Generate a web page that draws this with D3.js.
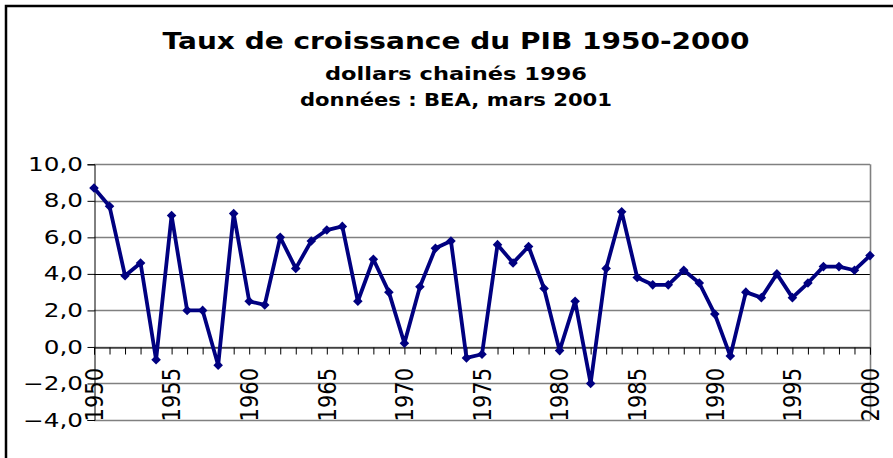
<!DOCTYPE html>
<html>
<head>
<meta charset="utf-8">
<script src="https://cdn.jsdelivr.net/npm/d3@7"></script>
<style>
  body { margin: 0; background: #fff; }
  svg { display: block; }
</style>
</head>
<body>
<div id="chart"></div>
<script>
// Years and growth rates
let years = d3.range(1950, 2001);
let growth = [
  8.7, 7.7, 3.9, 4.6, -0.7, 7.2, 2.0, 2.0, -1.0, 7.3,
  2.5, 2.3, 6.0, 4.3, 5.8, 6.4, 6.6, 2.5, 4.8, 3.0,
  0.2, 3.3, 5.4, 5.8, -0.6, -0.4, 5.6, 4.6, 5.5, 3.2,
  -0.2, 2.5, -2.0, 4.3, 7.4, 3.8, 3.4, 3.4, 4.2, 3.5,
  1.8, -0.5, 3.0, 2.7, 4.0, 2.7, 3.5, 4.4, 4.4, 4.2,
  5.0
];
let yTicks = [-4, -2, 0, 2, 4, 6, 8, 10];
let labelYears = [1950, 1955, 1960, 1965, 1970, 1975, 1980, 1985, 1990, 1995, 2000];

let title = "Taux de croissance du PIB 1950-2000";
let subtitles = ["dollars chainés 1996", "données : BEA, mars 2001"];

let width = 893;
let height = 458;
let stretch = 1.3; // the original picture is widened horizontally

let data = years.map((y, i) => ({year: y, value: growth[i]}));

let svg = d3.select("#chart")
            .append("svg")
            .attr("width", width)
            .attr("height", height);

// outer chart frame (cropped on the right and bottom)
svg.append("rect")
    .attr("x", 6)
    .attr("y", 6)
    .attr("width", 920)
    .attr("height", 500)
    .attr("fill", "none")
    .attr("stroke", "#000")
    .attr("stroke-width", 2.5);

// titles
svg.append("text")
    .attr("x", 456)
    .attr("y", 49)
    .attr("text-anchor", "middle")
    .attr("textLength", 587)
    .attr("lengthAdjust", "spacingAndGlyphs")
    .style("font-family", "DejaVu Sans")
    .style("font-weight", "bold")
    .style("font-size", "23.5px")
    .text(title);

let subLengths = [262, 312];

svg.selectAll(".sub")
    .data(subtitles)
    .enter()
    .append("text")
    .attr("class", "sub")
    .attr("x", 456)
    .attr("y", (d, i) => 80 + i * 26)
    .attr("text-anchor", "middle")
    .attr("textLength", (d, i) => subLengths[i])
    .attr("lengthAdjust", "spacingAndGlyphs")
    .style("font-family", "DejaVu Sans")
    .style("font-weight", "bold")
    .style("font-size", "17px")
    .text(d => d);

// scales
let xScale = d3.scaleLinear()
                .domain([1950, 2000])
                .range([94, 870]);

let yScale = d3.scaleLinear()
                .domain([-4, 10])
                .range([420, 164.3]);

// gridlines
svg.selectAll(".grid")
    .data(yTicks)
    .enter()
    .append("line")
    .attr("class", "grid")
    .attr("x1", xScale(1950))
    .attr("x2", xScale(2000))
    .attr("y1", d => Math.round(yScale(d)) + 0.5)
    .attr("y2", d => Math.round(yScale(d)) + 0.5)
    .attr("stroke", d => d === 4 ? "#000" : "#808080")
    .attr("stroke-width", d => d === 4 ? 1 : 1.6);

// right border of plot area
svg.append("line")
    .attr("x1", xScale(2000) + 0.5)
    .attr("x2", xScale(2000) + 0.5)
    .attr("y1", yScale(10))
    .attr("y2", yScale(-4))
    .attr("stroke", "#808080")
    .attr("stroke-width", 1.6);

// y axis
let yAxis = d3.axisLeft(yScale)
                .tickValues(yTicks)
                .tickSize(7)
                .tickPadding(4)
                .tickFormat(d => d3.format(".1f")(d).replace(".", ","));

let gy = svg.append("g")
    .attr("transform", "translate(" + (xScale(1950) + 0.5) + ",0)")
    .call(yAxis);

gy.select(".domain").attr("stroke", "#000");
gy.selectAll(".tick line").attr("stroke", "#000");
gy.selectAll(".tick text")
    .attr("x", -11.5 / stretch)
    .attr("transform", "scale(" + stretch + ",1)")
    .style("font-family", "DejaVu Sans")
    .style("font-size", "19px")
    .attr("fill", "#000");

// x axis at zero, a tick each year
let xAxis = d3.axisBottom(xScale)
                .tickValues(years)
                .tickSize(7)
                .tickFormat("");

let gx = svg.append("g")
    .attr("transform", "translate(0," + (Math.round(yScale(0)) + 0.5) + ")")
    .call(xAxis);

gx.select(".domain").attr("stroke", "#000").attr("stroke-width", 1);
gx.selectAll(".tick line").attr("stroke", "#000");

// rotated year labels at the bottom
svg.selectAll(".year-label")
    .data(labelYears)
    .enter()
    .append("text")
    .attr("class", "year-label")
    .attr("transform", d => "translate(" + xScale(d) + ",368) scale(1.15,1) rotate(-90)")
    .attr("text-anchor", "end")
    .attr("dy", "0.36em")
    .style("font-family", "DejaVu Sans")
    .style("font-size", "21px")
    .text(d => d);

// series line
let line = d3.line()
            .x(d => xScale(d.year))
            .y(d => yScale(d.value));

svg.append("path")
    .datum(data)
    .attr("d", line)
    .attr("fill", "none")
    .attr("stroke", "#000080")
    .attr("stroke-width", 3.8)
    .attr("stroke-linejoin", "round");

// diamond markers
let diamond = d3.symbol().type(d3.symbolSquare).size(46);

svg.selectAll(".marker")
    .data(data)
    .enter()
    .append("path")
    .attr("class", "marker")
    .attr("d", diamond)
    .attr("transform", d => "translate(" + xScale(d.year) + "," + yScale(d.value) + ") rotate(45)")
    .attr("fill", "#000080");
</script>
</body>
</html>
